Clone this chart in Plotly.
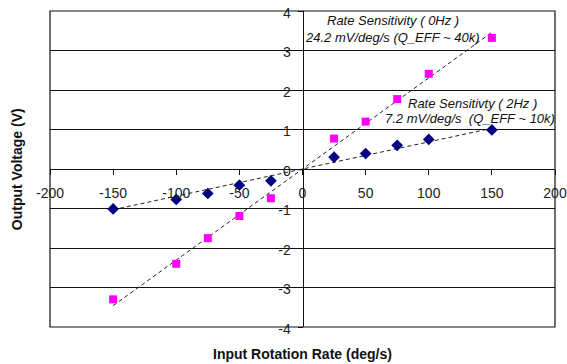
import plotly.graph_objects as go

rates = [-150, -100, -75, -50, -25, 25, 50, 75, 100, 150]
v_0hz = [-3.30, -2.40, -1.75, -1.19, -0.74, 0.77, 1.20, 1.77, 2.41, 3.32]
v_2hz = [-1.01, -0.77, -0.62, -0.41, -0.30, 0.30, 0.39, 0.60, 0.75, 0.99]
trend_x = [-150, 150]
trend_0hz = [-3.46, 3.46]
trend_2hz = [-1.03, 1.03]
x_ticks = [-200, -150, -100, -50, 0, 50, 100, 150, 200]
y_ticks = [-4, -3, -2, -1, 0, 1, 2, 3, 4]

FONT = "Arial, Liberation Sans, sans-serif"

fig = go.Figure()
fig.add_trace(go.Scatter(x=trend_x, y=trend_0hz, mode="lines",
                         line=dict(color="#222", width=1, dash="4px,3px"), showlegend=False))
fig.add_trace(go.Scatter(x=trend_x, y=trend_2hz, mode="lines",
                         line=dict(color="#222", width=1, dash="4px,3px"), showlegend=False))
fig.add_trace(go.Scatter(x=rates, y=v_0hz, mode="markers",
                         marker=dict(symbol="square", size=8, color="#FF00FF"), showlegend=False))
fig.add_trace(go.Scatter(x=rates, y=v_2hz, mode="markers",
                         marker=dict(symbol="diamond", size=9, color="#000080"), showlegend=False))

fig.update_layout(
    width=567, height=364, autosize=False,
    margin=dict(l=50, r=12, t=11, b=37),
    plot_bgcolor="white", paper_bgcolor="white",
    font=dict(family=FONT, size=14, color="#222"),
    xaxis=dict(range=[-200, 200], tickvals=x_ticks, ticktext=[str(v) for v in x_ticks],
               anchor="free", position=0.5, showgrid=False, zeroline=False, automargin=False,
               showline=True, linecolor="#111", linewidth=1,
               ticks="outside", ticklen=5, tickcolor="#111", ticklabeloverflow="allow",
               ticklabelstandoff=6, tickfont=dict(size=14, color="#222")),
    yaxis=dict(range=[-4, 4], tickvals=y_ticks, ticktext=[str(v) for v in y_ticks],
               anchor="free", position=0.5, showgrid=True, gridcolor="#111", gridwidth=1,
               zeroline=False, showline=True, linecolor="#111", linewidth=1, automargin=False,
               ticks="outside", ticklen=5, tickcolor="#111", ticklabeloverflow="allow",
               ticklabelstandoff=4, ticklabelshift=2, tickfont=dict(size=14, color="#222")),
    shapes=[dict(type="rect", xref="paper", yref="paper", x0=0, x1=1, y0=0, y1=1,
                 line=dict(color="#111", width=1.2), layer="above")],
    annotations=[
        dict(text="<b>Output Voltage (V)</b>", xref="paper", yref="paper",
             x=-0.065, y=0.5, textangle=-90, showarrow=False,
             font=dict(size=14, color="#111"), xanchor="center", yanchor="middle"),
        dict(text="<b>Input Rotation Rate (deg/s)</b>", xref="paper", yref="paper",
             x=0.5, y=-0.055, showarrow=False, font=dict(size=14, color="#111"),
             xanchor="center", yanchor="top"),
        dict(text="<i>Rate Sensitivity ( 0Hz )</i>", x=72, y=3.75, showarrow=False,
             font=dict(size=13, color="#111")),
        dict(text="<i>24.2 mV/deg/s (Q_EFF ~ 40k)</i>", x=71, y=3.34, showarrow=False,
             font=dict(size=13, color="#111")),
        dict(text="<i>Rate Sensitivty ( 2Hz )</i>", x=135, y=1.67, showarrow=False,
             font=dict(size=13, color="#111")),
        dict(text="<i>7.2 mV/deg/s  (Q_EFF ~ 10k)</i>", x=133, y=1.29, showarrow=False,
             font=dict(size=13, color="#111")),
    ],
)

fig.write_html("out.html", config={"displayModeBar": False},
               post_script="document.body.style.margin='0';document.body.style.padding='0';")
